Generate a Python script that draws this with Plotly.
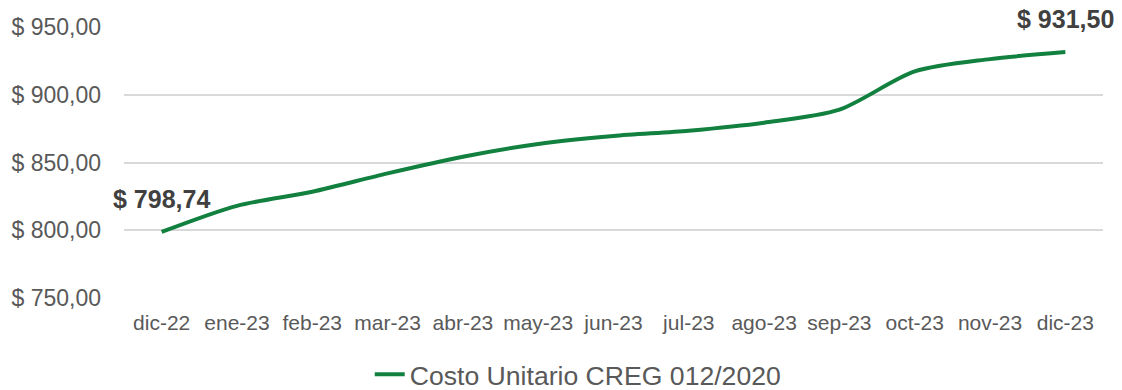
import plotly.graph_objects as go

# Monthly unit cost series
meses = ["dic-22", "ene-23", "feb-23", "mar-23", "abr-23", "may-23", "jun-23",
         "jul-23", "ago-23", "sep-23", "oct-23", "nov-23", "dic-23"]
costo = [798.74, 818.0, 828.4, 842.0, 854.3, 863.7, 869.6,
         873.5, 879.4, 889.0, 917.2, 926.3, 931.50]
serie = "Costo Unitario CREG 012/2020"
y_ticks = [750, 800, 850, 900, 950]
y_tick_labels = ["$ 750,00", "$ 800,00", "$ 850,00", "$ 900,00", "$ 950,00"]

VERDE = "#12803F"
GRIS = "#595959"
FONT = "Liberation Sans, Arial, sans-serif"


def fmt_pesos(v):
    return "$ " + f"{v:.2f}".replace(".", ",")


fig = go.Figure()
fig.add_trace(go.Scatter(
    x=meses, y=costo, name=serie, mode="lines",
    line=dict(color=VERDE, width=4, shape="spline", smoothing=0.8),
    hoverinfo="skip",
))

# Value labels on the first and last months
for i in (0, len(meses) - 1):
    fig.add_annotation(
        x=meses[i], y=costo[i], text=fmt_pesos(costo[i]),
        showarrow=False, yanchor="bottom", yshift=17,
        font=dict(family=FONT, size=25, color="#404040", weight="bold"),
    )

fig.update_layout(
    width=1122, height=390,
    margin=dict(l=124, r=19, t=27, b=92),
    paper_bgcolor="white", plot_bgcolor="white",
    font=dict(family=FONT, color=GRIS),
    showlegend=True,
    legend=dict(
        orientation="h", x=0.251, xanchor="left",
        yref="container", y=0.04, yanchor="middle",
        font=dict(family=FONT, size=26.6, color=GRIS),
        bgcolor="rgba(0,0,0,0)", itemwidth=30,
    ),
    xaxis=dict(
        type="category", range=[-0.5, len(meses) - 0.5],
        showgrid=False, showline=False, zeroline=False, ticks="",
        tickfont=dict(family=FONT, size=21, color=GRIS),
        ticklabelstandoff=10,
    ),
    yaxis=dict(
        range=[750, 950], tickvals=y_ticks, ticktext=y_tick_labels,
        showgrid=True, gridcolor="#D9D9D9", gridwidth=1.5,
        showline=False, zeroline=False, ticks="",
        tickfont=dict(family=FONT, size=23, color=GRIS),
        ticklabelstandoff=22,
    ),
)

fig.write_html("out.html")
